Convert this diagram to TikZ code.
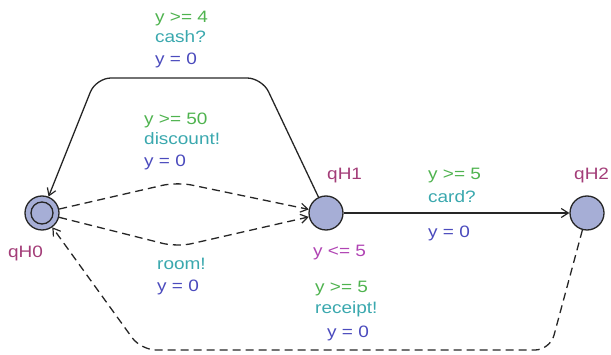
\documentclass[tikz,border=0pt]{standalone}
\usepackage{fontspec}
\setmainfont{Liberation Sans}[FakeStretch=1.15]
\usepackage{xcolor}
\usetikzlibrary{arrows.meta}
\definecolor{guardc}{HTML}{4FB34F}
\definecolor{syncc}{HTML}{3AA8AE}
\definecolor{assignc}{HTML}{4B4BBD}
\definecolor{namec}{HTML}{A33D78}
\definecolor{invc}{HTML}{B043B3}
\definecolor{locfill}{HTML}{A6AED6}

\begin{document}
\begin{tikzpicture}[x=1pt,y=-1pt,
  every node/.style={font=\fontsize{16.5}{20}\selectfont,inner sep=0pt},
  loc/.style={circle,draw=black!85,fill=locfill,line width=1.3pt,minimum size=34pt},
  trans/.style={line width=1.3pt,draw=black!85,rounded corners=15pt,
    -{Straight Barb[length=7pt,width=9pt,line width=1.2pt]}},
  dtrans/.style={trans,dash pattern=on 8pt off 5pt},
  guardlbl/.style={text=guardc,anchor=base west},
  synclbl/.style={text=syncc,anchor=base west},
  assignlbl/.style={text=assignc,anchor=base west},
  loclbl/.style={text=namec,anchor=base west},
  invlbl/.style={text=invc,anchor=base west}
]
\useasboundingbox (0,0) rectangle (611,355);
% locations
\node[loc] (qH0) at (42,213) {};
\draw[line width=1.3pt,draw=black!85] (qH0.center) circle[radius=11pt];
\node[loc] (qH1) at (326,213) {};
\node[loc] (qH2) at (587,213) {};
\node[loclbl] (nH0) at (8,258) {qH0};
\node[loclbl] (nH1) at (327,180) {qH1};
\node[loclbl] (nH2) at (574,180) {qH2};
\node[invlbl] (iH1) at (313,257) {y <= 5};
% corner points
\coordinate (c1) at (262,78);
\coordinate (c2) at (96,78);
\coordinate (c3) at (177,182);
\coordinate (c4) at (177,247);
\coordinate (c5) at (550,350);
\coordinate (c6) at (141,350);
% edges
\draw[trans] (qH1) -- (c1) -- (c2) -- (qH0);
\draw[dtrans] (qH0) -- (c3) -- (qH1);
\draw[dtrans] (qH0) -- (c4) -- (qH1);
\draw[trans] (qH1) -- (qH2);
\draw[dtrans] (qH2) -- (c5) -- (c6) -- (qH0);
% labels
\node[guardlbl] (g1) at (155,23) {y >= 4};
\node[synclbl] (s1) at (155,43) {cash?};
\node[assignlbl] (a1) at (155,65) {y = 0};
\node[guardlbl] (g2) at (144,125) {y >= 50};
\node[synclbl] (s2) at (144,145) {discount!};
\node[assignlbl] (a2) at (144,167) {y = 0};
\node[guardlbl] (g3) at (428,180) {y >= 5};
\node[synclbl] (s3) at (428,203) {card?};
\node[assignlbl] (a3) at (428,238) {y = 0};
\node[synclbl] (s4) at (157,270) {room!};
\node[assignlbl] (a4) at (157,292) {y = 0};
\node[guardlbl] (g5) at (315,293) {y >= 5};
\node[synclbl] (s5) at (315,314) {receipt!};
\node[assignlbl] (a5) at (327,338) {y = 0};
\end{tikzpicture}
\end{document}
